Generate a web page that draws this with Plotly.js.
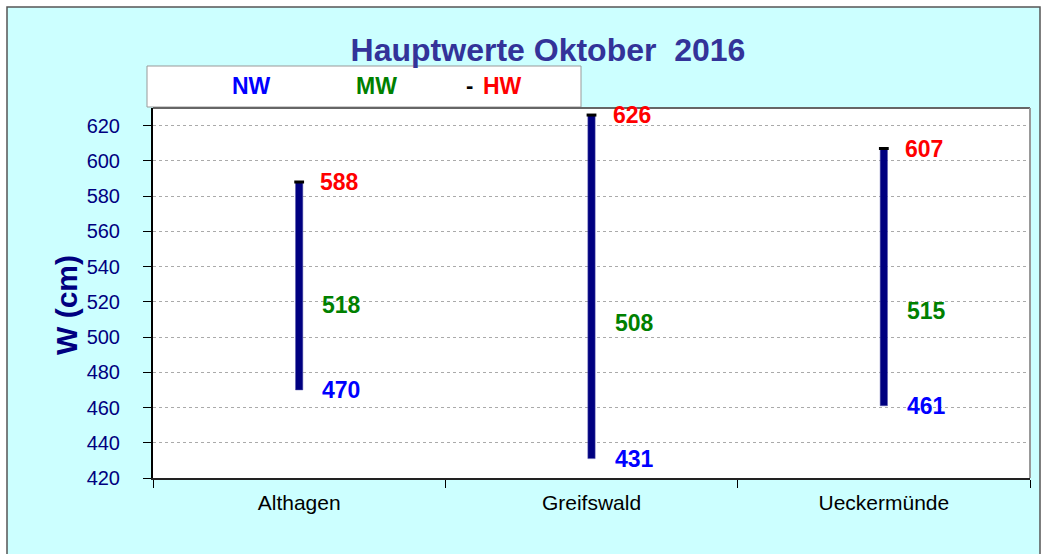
<!DOCTYPE html>
<html>
<head>
<meta charset="utf-8">
<script src="https://cdn.plot.ly/plotly-3.0.1.min.js"></script>
<style>html,body{margin:0;padding:0;background:#fff;}#chart{width:1048px;height:554px;}</style>
</head>
<body>
<div id="chart"></div>
<script>
const categories = ["Althagen", "Greifswald", "Ueckermünde"];
const nwValues = [470, 431, 461];
const mwValues = [518, 508, 515];
const hwValues = [588, 626, 607];
const yTickVals = [420, 440, 460, 480, 500, 520, 540, 560, 580, 600, 620];
const legendLabels = ["NW", "MW", "HW"];

const FONT = "Liberation Sans, Arial, sans-serif";

const barTrace = {
  type: "bar",
  x: categories,
  base: nwValues,
  y: hwValues.map((h, i) => h - nwValues[i]),
  width: 0.025,
  marker: {color: "#000080", line: {color: "#5555aa", width: 0.5}},
  hoverinfo: "skip",
  showlegend: false
};

const capTrace = {
  type: "scatter",
  mode: "markers",
  x: categories,
  y: hwValues,
  marker: {symbol: "line-ew-open", size: 7, color: "#000000", line: {color: "#000000", width: 3}},
  hoverinfo: "skip",
  showlegend: false
};

const labelFont = (c) => ({family: FONT, size: 23, color: c});
const annotations = [];
categories.forEach((c, i) => {
  annotations.push({x: c, y: hwValues[i], xref: "x", yref: "y", text: "<b>" + hwValues[i] + "</b>",
    showarrow: false, xanchor: "left", yanchor: "middle", xshift: 19, font: labelFont("#ff0000")});
  annotations.push({x: c, y: mwValues[i], xref: "x", yref: "y", text: "<b>" + mwValues[i] + "</b>",
    showarrow: false, xanchor: "left", yanchor: "middle", xshift: 21, font: labelFont("#008000")});
  annotations.push({x: c, y: nwValues[i], xref: "x", yref: "y", text: "<b>" + nwValues[i] + "</b>",
    showarrow: false, xanchor: "left", yanchor: "middle", xshift: 21, font: labelFont("#0000ff")});
});
// legend box texts
const legColors = ["#0000ff", "#008000", "#ff0000"];
const legX = [251, 376, 502];
legendLabels.forEach((t, i) => {
  annotations.push({x: (legX[i] - 153) / 877, y: (478 - 86) / 370, xref: "paper", yref: "paper",
    text: "<b>" + t + "</b>", showarrow: false, xanchor: "center", yanchor: "middle",
    font: {family: FONT, size: 23, color: legColors[i]}});
});
annotations.push({x: (469 - 153) / 877, y: (478 - 86) / 370, xref: "paper", yref: "paper",
  text: "<b>-</b>", showarrow: false, xanchor: "center", yanchor: "middle",
  font: {family: FONT, size: 22, color: "#000000"}});
// y axis title
annotations.push({x: (66 - 153) / 877, y: (478 - 305) / 370, xref: "paper", yref: "paper",
  text: "<b>W (cm)</b>", textangle: -90, showarrow: false, xanchor: "center", yanchor: "middle",
  font: {family: FONT, size: 30, color: "#000080"}});

const shapes = [
  // outer frame / background
  {type: "rect", xref: "paper", yref: "paper", layer: "below",
   x0: (7 - 153) / 877, x1: (1040 - 153) / 877, y0: (478 - 600) / 370, y1: (478 - 7) / 370,
   fillcolor: "#ccffff", line: {color: "#555555", width: 1.5}},
  // plot area background
  {type: "rect", xref: "paper", yref: "paper", layer: "below",
   x0: 0, x1: 1, y0: 0, y1: 1, fillcolor: "#ffffff", line: {width: 0}},
  // legend box
  {type: "rect", xref: "paper", yref: "paper", layer: "above",
   x0: (147 - 153) / 877, x1: (581 - 153) / 877, y0: (478 - 107) / 370, y1: (478 - 66) / 370,
   fillcolor: "#ffffff", line: {color: "#999999", width: 1}},
  // top & right border of plot area
  {type: "line", xref: "paper", yref: "paper", x0: 0, x1: 1, y0: 1, y1: 1, line: {color: "#666666", width: 2}},
  {type: "line", xref: "paper", yref: "paper", x0: 1, x1: 1, y0: 0, y1: 1, line: {color: "#999999", width: 2}}
];

const layout = {
  width: 1048, height: 554,
  margin: {l: 153, r: 18, t: 108, b: 76},
  paper_bgcolor: "#ffffff",
  plot_bgcolor: "rgba(0,0,0,0)",
  font: {family: FONT},
  title: {text: "<b>Hauptwerte Oktober  2016</b>", x: 548 / 1048, xref: "container", xanchor: "center",
          y: 1 - 50 / 554, yref: "container", yanchor: "middle",
          font: {family: FONT, size: 32, color: "#333399"}},
  showlegend: false,
  bargap: 0,
  xaxis: {
    type: "category",
    showgrid: false,
    tickson: "boundaries",
    ticks: "outside", ticklen: 8, tickcolor: "#000000", tickwidth: 1,
    showline: true, linecolor: "#222222", linewidth: 2,
    tickfont: {family: FONT, size: 21, color: "#000000"},
    ticklabelstandoff: 5,
    fixedrange: true
  },
  yaxis: {
    range: [420, 630],
    tickvals: yTickVals,
    showgrid: true, gridcolor: "#aaaaaa", gridwidth: 1, griddash: "dot",
    zeroline: false,
    ticks: "outside", ticklen: 8, tickcolor: "#000000",
    showline: true, linecolor: "#000000", linewidth: 2,
    tickfont: {family: FONT, size: 20, color: "#000080"},
    ticklabelstandoff: 19,
    fixedrange: true
  },
  shapes: shapes,
  annotations: annotations
};

Plotly.newPlot("chart", [barTrace, capTrace], layout, {displayModeBar: false, staticPlot: true});
</script>
</body>
</html>
